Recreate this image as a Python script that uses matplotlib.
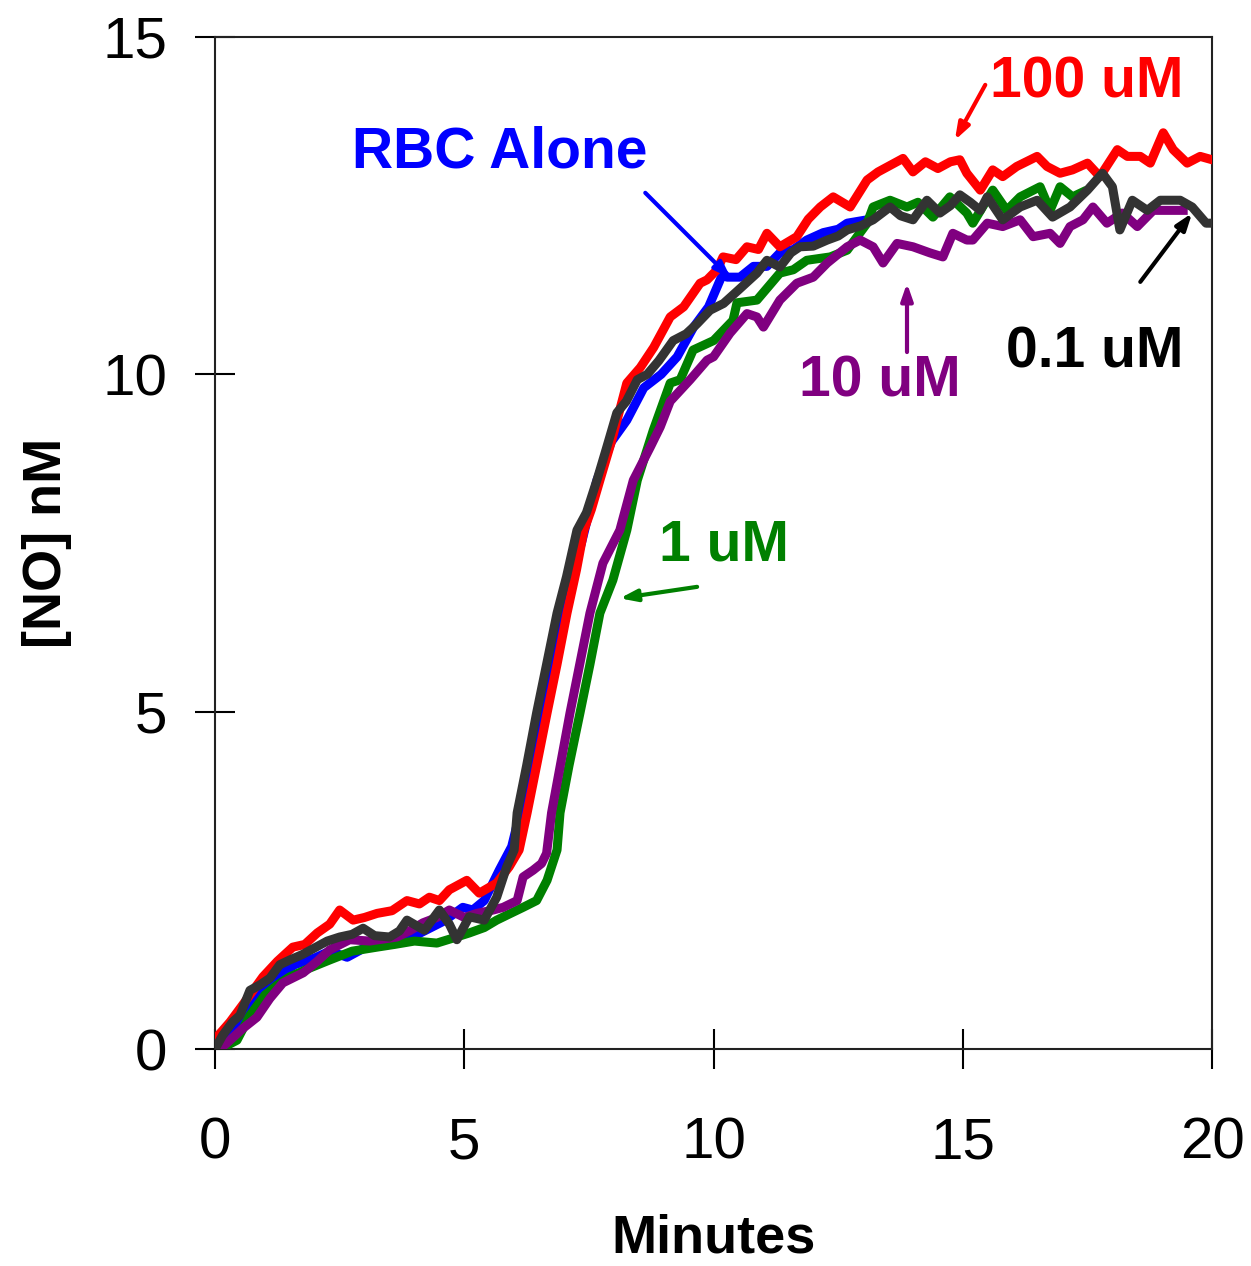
import matplotlib
matplotlib.use("Agg")
import matplotlib.pyplot as plt

# ---- data (minutes, [NO] nM) ----
t_black = [0.0, 0.15, 0.35, 0.5, 0.7, 0.9, 1.1, 1.3, 1.5, 1.75, 2.0, 2.25, 2.5, 2.75, 2.97,
           3.2, 3.5, 3.7, 3.85, 4.2, 4.5, 4.7, 4.85, 5.1, 5.4, 5.65, 5.85, 6.0, 6.06, 6.25,
           6.45, 6.65, 6.86, 7.05, 7.26, 7.45, 7.66, 7.85, 8.06, 8.25, 8.47, 8.67, 8.9, 9.19,
           9.45, 9.67, 9.93, 10.2, 10.5, 10.87, 11.07, 11.33, 11.55, 11.73, 12.0, 12.28, 12.5,
           12.68, 12.95, 13.2, 13.54, 13.75, 14.0, 14.28, 14.54, 14.75, 14.94, 15.15, 15.35,
           15.49, 15.8, 16.15, 16.49, 16.8, 17.15, 17.5, 17.8, 18.0, 18.15, 18.4, 18.7, 18.96,
           19.36, 19.6, 19.88, 20.0]
v_black = [0.0, 0.2, 0.4, 0.5, 0.87, 0.95, 1.05, 1.25, 1.32, 1.4, 1.5, 1.6, 1.66, 1.7, 1.79,
           1.68, 1.66, 1.75, 1.91, 1.76, 2.06, 1.85, 1.62, 1.96, 1.91, 2.25, 2.7, 2.95, 3.5, 4.2,
           4.98, 5.7, 6.46, 7.0, 7.69, 7.95, 8.43, 8.9, 9.43, 9.6, 9.92, 10.0, 10.2, 10.5,
           10.6, 10.75, 10.95, 11.05, 11.25, 11.5, 11.69, 11.59, 11.8, 11.89, 11.9, 11.99, 12.05,
           12.14, 12.2, 12.29, 12.48, 12.35, 12.29, 12.58, 12.39, 12.5, 12.66, 12.55, 12.43,
           12.63, 12.29, 12.48, 12.58, 12.33, 12.48, 12.73, 12.98, 12.78, 12.14, 12.58, 12.43, 12.58,
           12.58, 12.48, 12.24, 12.24]

t_red = [0.0, 0.04, 0.3, 0.6, 0.96, 1.25, 1.56, 1.8, 2.05, 2.3, 2.5, 2.77, 3.0, 3.25, 3.55,
         3.85, 4.1, 4.3, 4.5, 4.7, 5.05, 5.3, 5.65, 5.9, 6.1, 6.26, 6.45, 6.66, 6.86, 7.06,
         7.25, 7.4, 7.55, 7.72, 7.95, 8.26, 8.53, 8.8, 9.13, 9.4, 9.73, 9.87, 10.07, 10.19,
         10.45, 10.67, 10.9, 11.07, 11.33, 11.67, 11.9, 12.14, 12.4, 12.74, 13.08, 13.3, 13.55,
         13.8, 14.0, 14.25, 14.5, 14.75, 14.94, 15.08, 15.35, 15.6, 15.8, 16.08, 16.49, 16.69,
         16.95, 17.2, 17.5, 17.75, 18.1, 18.3, 18.56, 18.76, 19.02, 19.22, 19.5, 19.76, 20.0]
v_red = [0.05, 0.18, 0.4, 0.7, 1.07, 1.3, 1.51, 1.55, 1.72, 1.85, 2.06, 1.91, 1.95, 2.01, 2.05,
         2.2, 2.15, 2.25, 2.2, 2.36, 2.5, 2.31, 2.46, 2.7, 2.95, 3.5, 4.2, 4.98, 5.7, 6.46,
         7.1, 7.69, 8.0, 8.43, 9.0, 9.87, 10.1, 10.4, 10.85, 11.0, 11.35, 11.4, 11.55, 11.74,
         11.7, 11.89, 11.85, 12.09, 11.89, 12.04, 12.3, 12.48, 12.63, 12.48, 12.88, 13.0, 13.1,
         13.2, 13.0, 13.15, 13.05, 13.15, 13.18, 12.98, 12.73, 13.03, 12.93, 13.08, 13.23, 13.08,
         12.98, 13.03, 13.13, 12.93, 13.33, 13.23, 13.23, 13.13, 13.58, 13.33, 13.13, 13.23, 13.18]

t_blue = [0.0, 0.2, 0.4, 0.7, 1.0, 1.3, 1.6, 2.0, 2.3, 2.65, 3.0, 3.4, 3.85, 4.2, 4.6, 4.97,
          5.17, 5.4, 5.7, 5.95, 6.15, 6.35, 6.55, 6.75, 6.95, 7.15, 7.35, 7.66, 7.95, 8.26,
          8.6, 8.95, 9.27, 9.6, 9.9, 10.19, 10.27, 10.53, 10.8, 11.07, 11.33, 11.6, 11.87,
          12.2, 12.5, 12.68, 13.08]
v_blue = [0.0, 0.05, 0.35, 0.7, 0.9, 1.1, 1.25, 1.35, 1.45, 1.36, 1.5, 1.55, 1.62, 1.75, 1.9, 2.1,
          2.06, 2.2, 2.65, 3.0, 3.6, 4.3, 5.0, 5.7, 6.4, 7.0, 7.5, 8.43, 9.0, 9.32,
          9.8, 10.0, 10.26, 10.7, 11.0, 11.5, 11.44, 11.44, 11.6, 11.6, 11.8, 11.85, 11.99,
          12.1, 12.15, 12.24, 12.29]

t_green = [0.1, 0.44, 0.7, 1.0, 1.25, 1.5, 1.9, 2.3, 2.75, 3.25, 3.6, 4.0, 4.45, 4.8, 5.1,
           5.4, 5.65, 5.9, 6.18, 6.45, 6.66, 6.86, 6.92, 7.1, 7.32, 7.52, 7.72, 7.98, 8.26,
           8.47, 8.79, 9.13, 9.33, 9.59, 10.0, 10.39, 10.47, 10.87, 11.33, 11.6, 11.87, 12.34,
           12.68, 13.08, 13.2, 13.54, 13.88, 14.1, 14.4, 14.74, 15.08, 15.2, 15.6, 15.88, 16.15,
           16.55, 16.75, 16.95, 17.2, 17.4]
v_green = [0.0, 0.13, 0.5, 0.8, 0.95, 1.07, 1.2, 1.32, 1.45, 1.51, 1.55, 1.6, 1.57, 1.65, 1.72,
           1.8, 1.91, 2.0, 2.1, 2.2, 2.5, 2.95, 3.5, 4.2, 4.98, 5.7, 6.46, 6.95, 7.69,
           8.43, 9.17, 9.87, 9.92, 10.36, 10.5, 10.8, 11.06, 11.1, 11.5, 11.55, 11.69, 11.74,
           11.84, 12.24, 12.48, 12.58, 12.48, 12.55, 12.33, 12.63, 12.39, 12.24, 12.73, 12.43, 12.63,
           12.78, 12.43, 12.78, 12.63, 12.7]

t_purple = [0.1, 0.3, 0.55, 0.84, 1.1, 1.36, 1.77, 2.05, 2.3, 2.7, 3.1, 3.65, 3.9, 4.17, 4.45,
            4.7, 5.0, 5.25, 5.58, 5.78, 6.06, 6.18, 6.38, 6.55, 6.65, 6.75, 7.12, 7.52, 7.78,
            8.12, 8.39, 8.73, 8.93, 9.13, 9.53, 9.87, 10.0, 10.33, 10.67, 10.87, 11.0, 11.33,
            11.67, 12.0, 12.28, 12.68, 12.94, 13.2, 13.4, 13.68, 14.0, 14.34, 14.6, 14.8, 15.08,
            15.2, 15.49, 15.8, 16.15, 16.41, 16.75, 16.95, 17.15, 17.41, 17.61, 17.89, 18.2, 18.5,
            18.82, 19.1, 19.42]
v_purple = [0.0, 0.13, 0.3, 0.47, 0.75, 0.98, 1.13, 1.3, 1.47, 1.62, 1.6, 1.66, 1.75, 1.87, 1.95,
            2.06, 1.95, 2.01, 2.06, 2.1, 2.2, 2.55, 2.65, 2.75, 2.9, 3.5, 4.98, 6.46, 7.2,
            7.69, 8.43, 8.92, 9.22, 9.6, 9.92, 10.21, 10.26, 10.61, 10.9, 10.85, 10.7, 11.1,
            11.35, 11.44, 11.65, 11.89, 11.99, 11.89, 11.65, 11.94, 11.89, 11.8, 11.74, 12.09, 11.99,
            11.99, 12.24, 12.19, 12.29, 12.04, 12.09, 11.94, 12.19, 12.29, 12.48, 12.24, 12.39, 12.19,
            12.43, 12.43, 12.43]

x_ticks = [0, 5, 10, 15, 20]
y_ticks = [0, 5, 10, 15]

plt.rcParams['font.family'] = ['Liberation Sans', 'DejaVu Sans']

fig = plt.figure(figsize=(12.51, 12.66), dpi=100)
ax = fig.add_axes([0.1719, 0.1714, 0.7970, 0.7994])

lw = 6.5
ax.plot(t_blue, v_blue, color='#0000ff', lw=lw, zorder=2)
ax.plot(t_green, v_green, color='#008000', lw=lw, zorder=3)
ax.plot(t_purple, v_purple, color='#800080', lw=lw, zorder=4)
ax.plot(t_red, v_red, color='#ff0000', lw=lw, zorder=5)
ax.plot(t_black, v_black, color='#333333', lw=lw, zorder=6)

ax.set_xlim(0, 20)
ax.set_ylim(0, 15)
ax.set_xticks(x_ticks)
ax.set_yticks(y_ticks)
ax.tick_params(direction='inout', length=29, width=1.5, labelsize=42)
ax.tick_params(axis='x', pad=34)
ax.tick_params(axis='y', pad=20)
for s in ax.spines.values():
    s.set_linewidth(1.5)
    s.set_color('#222222')

ax.set_xlabel('Minutes', fontsize=39, fontweight='bold', labelpad=31)
ax.set_ylabel('[NO] nM', fontsize=39, fontweight='bold', labelpad=22)

# labels with arrows
def label(txt, xy, col):
    ax.text(xy[0], xy[1], txt, color=col, fontsize=41, fontweight='bold',
            ha='center', va='center', zorder=10)

def arrow(tail, tip, col):
    ax.annotate('', xy=tip, xytext=tail,
                arrowprops=dict(arrowstyle='-|>,head_length=1.0,head_width=0.35',
                                color=col, lw=3, shrinkA=0, shrinkB=0), zorder=10)

label('100 uM', (17.49, 14.33), '#ff0000')
arrow((15.45, 14.29), (14.84, 13.47), '#ff0000')
label('RBC Alone', (5.72, 13.29), '#0000ff')
arrow((8.63, 12.69), (10.35, 11.42), '#0000ff')
label('1 uM', (10.21, 7.47), '#008000')
arrow((9.67, 6.85), (8.12, 6.68), '#008000')
label('10 uM', (13.34, 9.89), '#800080')
arrow((13.88, 10.33), (13.88, 11.35), '#800080')
label('0.1 uM', (17.65, 10.33), '#000000')
arrow((18.56, 11.37), (19.6, 12.39), '#000000')

fig.savefig('out.png', dpi=100)
